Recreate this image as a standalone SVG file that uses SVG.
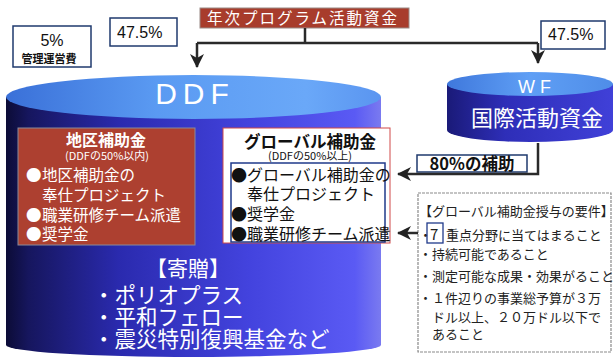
<svg xmlns="http://www.w3.org/2000/svg" width="613" height="360" viewBox="0 0 613 360">
<defs>
  <linearGradient id="ddfBody" x1="0" y1="0" x2="1" y2="0">
    <stop offset="0" stop-color="#0c0c36"/>
    <stop offset="0.06" stop-color="#16165e"/>
    <stop offset="0.3" stop-color="#2a2aae"/>
    <stop offset="0.65" stop-color="#4343de"/>
    <stop offset="0.93" stop-color="#5a5af4"/>
    <stop offset="1" stop-color="#7a7af0"/>
  </linearGradient>
  <linearGradient id="ddfTop" x1="0" y1="0" x2="1" y2="0">
    <stop offset="0" stop-color="#3a70d8"/>
    <stop offset="0.4" stop-color="#5a9af2"/>
    <stop offset="0.8" stop-color="#6aa8f8"/>
    <stop offset="1" stop-color="#5a95f0"/>
  </linearGradient>
  <linearGradient id="wfBody" x1="0" y1="0" x2="1" y2="0">
    <stop offset="0" stop-color="#1a1a78"/>
    <stop offset="0.35" stop-color="#2e2eb8"/>
    <stop offset="1" stop-color="#4040d8"/>
  </linearGradient>
  <linearGradient id="wfTop" x1="0" y1="0" x2="1" y2="0">
    <stop offset="0" stop-color="#3f78dc"/>
    <stop offset="0.5" stop-color="#5f9ff5"/>
    <stop offset="1" stop-color="#4f8de8"/>
  </linearGradient>
  <marker id="arr" markerUnits="userSpaceOnUse" markerWidth="16" markerHeight="16" refX="13" refY="7" orient="auto">
    <path d="M0,0 L14,7 L0,14 L4,7 Z" fill="#222"/>
  </marker>
  <style>
    .jp { font-family: "Noto Sans CJK JP", "Noto Sans", sans-serif; }
    .lat { font-family: "Liberation Sans", Arial, sans-serif; }
    .w { fill: #ffffff; }
    .k { fill: #111111; }
    .box { fill: #ffffff; stroke: #1f3a6e; stroke-width: 1.5; }
    .conn { fill: none; stroke: #2a2a2a; stroke-width: 2.5; }
  </style>
</defs>
<rect width="613" height="360" fill="#ffffff"/>

<g id="ddf">
  <path d="M6,97 L6,345 A187.5,12 0 0 0 381,345 L381,97 Z" fill="url(#ddfBody)"/>
  <ellipse cx="193.5" cy="97" rx="187.5" ry="22" fill="url(#ddfTop)"/>
  <text class="lat w" x="195" y="104" font-size="30" text-anchor="middle" letter-spacing="6">DDF</text>
</g>

<g id="wf">
  <path d="M447,84 L447,130 A83,12 0 0 0 613,130 L613,84 Z" fill="url(#wfBody)"/>
  <ellipse cx="530" cy="84" rx="83" ry="12" fill="url(#wfTop)"/>
  <text class="lat w" x="537" y="93" font-size="18" text-anchor="middle" letter-spacing="5">WF</text>
  <text class="jp w" x="537" y="126" font-size="22" text-anchor="middle">国際活動資金</text>
</g>

<g id="title">
  <rect x="200" y="8" width="209" height="20" fill="#a83c2c" stroke="#9a8a86" stroke-width="1"/>
  <text class="jp w" x="207" y="24" font-size="15.5" letter-spacing="2">年次プログラム活動資金</text>
</g>

<g id="admin-5pct">
  <rect class="box" x="13" y="26" width="78" height="41"/>
  <text class="lat k" x="52" y="46" font-size="16" text-anchor="middle">5%</text>
  <text class="jp k" x="49" y="63" font-size="11" font-weight="bold" text-anchor="middle">管理運営費</text>
</g>

<g id="ddf-share">
  <rect class="box" x="110" y="18" width="67" height="28"/>
  <text class="lat k" x="117" y="38" font-size="16">47.5%</text>
</g>

<g id="wf-share">
  <rect class="box" x="541" y="21" width="64" height="28"/>
  <text class="lat k" x="548" y="40" font-size="16">47.5%</text>
</g>

<g id="district-grant">
  <rect x="18" y="128" width="177" height="117" fill="#ad4030" stroke="#8a8a9a" stroke-width="1"/>
  <text class="jp w" x="106" y="146" font-size="16" font-weight="bold" text-anchor="middle">地区補助金</text>
  <text class="jp w" x="107" y="160" font-size="11" text-anchor="middle">(DDFの50%以内)</text>
  <g class="jp w" font-size="15.5">
    <text x="26" y="181">●<tspan x="42">地区補助金の</tspan></text>
    <text x="42" y="201">奉仕プロジェクト</text>
    <text x="26" y="221">●<tspan x="42">職業研修チーム派遣</tspan></text>
    <text x="26" y="240">●<tspan x="42">奨学金</tspan></text>
  </g>
</g>

<g id="global-grant">
  <rect x="223" y="128" width="167" height="115" fill="#ffffff" stroke="#d04848" stroke-width="1"/>
  <rect x="231" y="163" width="154" height="79" fill="none" stroke="#1f3a8a" stroke-width="1.5"/>
  <text class="jp k" x="310" y="148" font-size="16.5" font-weight="bold" text-anchor="middle">グローバル補助金</text>
  <text class="jp k" x="310" y="160" font-size="11" text-anchor="middle">(DDFの50%以上)</text>
  <g class="jp k" font-size="16">
    <text x="231" y="181">●<tspan x="247">グローバル補助金の</tspan></text>
    <text x="247" y="200">奉仕プロジェクト</text>
    <text x="231" y="220">●<tspan x="247">奨学金</tspan></text>
    <text x="231" y="240">●<tspan x="247">職業研修チーム派遣</tspan></text>
  </g>
</g>

<g id="donations">
  <text class="jp w" x="188" y="276" font-size="21" text-anchor="middle">【寄贈】</text>
  <text class="jp w" x="93" y="303" font-size="21.5">・ポリオプラス</text>
  <text class="jp w" x="93" y="325" font-size="21.5">・平和フェロー</text>
  <text class="jp w" x="93" y="347" font-size="21.5">・震災特別復興基金など</text>
</g>

<g id="label-80">
  <rect class="box" x="417" y="155" width="110" height="17"/>
  <text class="jp k" x="472" y="170" font-size="16.5" font-weight="bold" text-anchor="middle">80%の補助</text>
</g>

<g id="requirements">
  <rect x="418" y="193" width="193" height="159" fill="#ffffff" stroke="#8a8a8a" stroke-width="1.2" stroke-dasharray="3,1"/>
  <rect x="427" y="223" width="16" height="20" fill="none" stroke="#1f3a8a" stroke-width="1.3"/>
  <g class="jp" fill="#222" font-size="13">
    <text x="419" y="216">【グローバル補助金授与の要件】</text>
    <text x="419" y="240">・<tspan x="430" font-size="15">7</tspan><tspan x="446">重点分野に当てはまること</tspan></text>
    <text x="419" y="259">・持続可能であること</text>
    <text x="419" y="281">・測定可能な成果・効果がること</text>
    <text x="419" y="303">・１件辺りの事業総予算が３万</text>
    <text x="432" y="322">ドル以上、２０万ドル以下で</text>
    <text x="432" y="339">あること</text>
  </g>
</g>

<g id="connectors">
  <path class="conn" d="M305,28 L305,43"/>
  <path class="conn" d="M197,43 L538,43"/>
  <path class="conn" d="M197,43 L197,67" marker-end="url(#arr)"/>
  <path class="conn" d="M538,43 L538,63" marker-end="url(#arr)"/>
  <path class="conn" d="M538,143 L538,174 L398,174" marker-end="url(#arr)"/>
  <path class="conn" d="M418,233 L398,233" marker-end="url(#arr)"/>
</g>
</svg>
